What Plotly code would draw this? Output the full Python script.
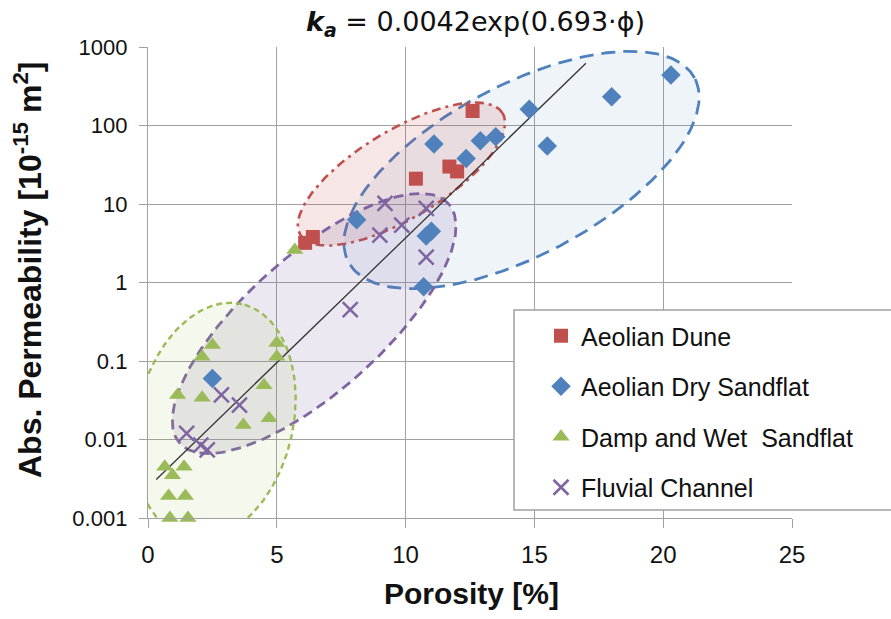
import numpy as np
import plotly.graph_objects as go

# ---------------- data ----------------
series_names = ["Aeolian Dune", "Aeolian Dry Sandflat", "Damp and Wet  Sandflat", "Fluvial Channel"]

dune_x = [6.1, 6.4, 10.4, 11.7, 12.0, 12.6]
dune_y = [3.2, 3.8, 21, 30, 26, 153]

dry_x = [2.5, 8.1, 10.7, 10.8, 11.0, 11.1, 12.35, 12.9, 13.5, 14.8, 15.5, 18.0, 20.3]
dry_y = [0.06, 6.3, 0.88, 3.9, 4.5, 58, 38, 64, 72, 161, 55, 233, 440]

damp_x = [0.65, 0.8, 0.85, 0.95, 1.15, 1.4, 1.45, 1.55, 2.1, 2.1, 2.5, 3.7, 4.5, 4.7, 5.0, 5.0, 5.7]
damp_y = [0.0045, 0.0019, 0.001, 0.0035, 0.037, 0.0045, 0.0019, 0.001, 0.034, 0.113, 0.16,
          0.0153, 0.049, 0.0186, 0.17, 0.113, 2.6]

fluv_x = [1.5, 2.05, 2.3, 2.85, 3.55, 7.85, 9.0, 9.2, 9.85, 10.8, 10.8]
fluv_y = [0.012, 0.0085, 0.0074, 0.037, 0.0275, 0.45, 4.0, 10.2, 5.4, 8.8, 2.1]

# fitted trend line end points
fit_x = [0.32, 17.0]
fit_y = [0.0031, 620]

x_ticks = [0, 5, 10, 15, 20, 25]
y_ticks = [0.001, 0.01, 0.1, 1, 10, 100, 1000]
y_ticklabels = ["0.001", "0.01", "0.1", "1", "10", "100", "1000"]

# envelope ellipses: centre (data), semi-axes (px), rotation (deg)
ell_centre_x = [14.5, 9.84, 6.45, 2.6]
ell_centre_y = [27.1, 24.1, 0.30, 0.0172]

# ---------------- layout geometry / styles ----------------
W, H = 891, 619
ML, MR, MT, MB = 148, 99, 47, 101
PW, PH = W - ML - MR, H - MT - MB
X_RANGE = [0, 25]
LOGY_RANGE = [-3, 3]
PX_X = PW / (X_RANGE[1] - X_RANGE[0])
PX_DEC = PH / (LOGY_RANGE[1] - LOGY_RANGE[0])

RED, BLUE, GREEN, PURPLE = "#C0504D", "#4F81BD", "#9BBB59", "#8064A2"
GRID = "#A0A0A0"
FONT = "Liberation Sans, Arial, sans-serif"

ell_a = [196, 118, 180, 120]
ell_b = [85, 44, 68, 78]
ell_ang = [28, 31, 41.7, 77]
ell_line = [BLUE, RED, PURPLE, GREEN]
ell_fill = ["rgba(79,129,189,0.09)", "rgba(192,80,77,0.14)",
            "rgba(128,100,162,0.15)", "rgba(155,187,89,0.11)"]
ell_dash = ["14px,8px", "9px,5px,3px,5px", "10px,6px", "6px,4px"]
ell_w = [2.8, 2.6, 2.8, 2.4]


def px_x(p):
    return (p - ML) / PW


def px_y(p):
    return (H - MB - p) / PH


def ellipse(cx, cy, a, b, ang):
    t = np.linspace(0, 2 * np.pi, 240)
    th = np.radians(ang)
    u, v = a * np.cos(t), b * np.sin(t)
    dx = u * np.cos(th) - v * np.sin(th)
    dy = u * np.sin(th) + v * np.cos(th)
    xs = cx + dx / PX_X
    ys = 10 ** (np.log10(cy) + dy / PX_DEC)
    return xs, ys


fig = go.Figure()

for i in range(4):
    ex, ey = ellipse(ell_centre_x[i], ell_centre_y[i], ell_a[i], ell_b[i], ell_ang[i])
    fig.add_trace(go.Scatter(
        x=ex, y=ey, mode="lines", fill="toself", fillcolor=ell_fill[i],
        line=dict(color=ell_line[i], width=ell_w[i], dash=ell_dash[i]),
        showlegend=False, hoverinfo="skip", cliponaxis=False))

fig.add_trace(go.Scatter(x=fit_x, y=fit_y, mode="lines",
                         line=dict(color="#333333", width=1.3),
                         showlegend=False, hoverinfo="skip"))

marker_specs = [
    (dune_x, dune_y, dict(symbol="square", size=14, color=RED)),
    (dry_x, dry_y, dict(symbol="diamond", size=15, color=BLUE)),
    (damp_x, damp_y, dict(symbol="triangle-up", size=15, color=GREEN)),
    (fluv_x, fluv_y, dict(symbol="x-thin-open", size=15, color=PURPLE,
                          line=dict(color=PURPLE, width=2.5))),
]
for name, (xs, ys, mk) in zip(series_names, marker_specs):
    fig.add_trace(go.Scatter(x=xs, y=ys, mode="markers", name=name, marker=mk,
                             legendgroup=name, cliponaxis=False))

shapes = [
    # white chart-title box hiding the top of the grid
    dict(type="rect", xref="paper", yref="paper", layer="between",
         x0=px_x(283), x1=px_x(663), y0=px_y(58), y1=px_y(0),
         fillcolor="white", line=dict(width=0)),
    # legend frame (runs off the right edge like the original)
    dict(type="rect", xref="paper", yref="paper", layer="above",
         x0=px_x(514), x1=px_x(905), y0=px_y(510), y1=px_y(310),
         fillcolor="white", line=dict(color=GRID, width=1.5)),
]

annotations = [
    dict(text="<b><i>k</i></b><sub><b><i>a</i></b></sub> = 0.0042exp(0.693·ϕ)",
         xref="paper", yref="paper", x=px_x(475), y=px_y(23), showarrow=False,
         xanchor="center", yanchor="middle",
         font=dict(family="DejaVu Sans, sans-serif", size=27, color="#111111")),
    dict(text="<b>Porosity [%]</b>", xref="paper", yref="paper",
         x=px_x(472), y=px_y(593), showarrow=False, xanchor="center", yanchor="middle",
         font=dict(family=FONT, size=30, color="#111111")),
    dict(text="<b>Abs. Permeability [10<sup>-15</sup> m<sup>2</sup>]</b>",
         xref="paper", yref="paper", x=px_x(28), y=px_y(270), showarrow=False,
         textangle=-90, xanchor="center", yanchor="middle",
         font=dict(family=FONT, size=32, color="#111111")),
]

fig.update_layout(
    width=W, height=H,
    margin=dict(l=ML, r=MR, t=MT, b=MB, pad=0),
    paper_bgcolor="white", plot_bgcolor="white",
    font=dict(family=FONT, color="#111111"),
    shapes=shapes, annotations=annotations,
    showlegend=True,
    legend=dict(x=px_x(541), y=px_y(313), xanchor="left", yanchor="top",
                bgcolor="rgba(0,0,0,0)", borderwidth=0,
                font=dict(family=FONT, size=25, color="#111111"),
                traceorder="grouped", tracegroupgap=15),
    xaxis=dict(range=X_RANGE, tickvals=x_ticks, showgrid=True, gridcolor=GRID,
               gridwidth=1.4, showline=True, linecolor=GRID, linewidth=1.4,
               ticks="outside", ticklen=9, tickcolor=GRID, tickwidth=1.4,
               ticklabelstandoff=6,
               zeroline=False, tickfont=dict(size=24, color="#111111")),
    yaxis=dict(type="log", range=LOGY_RANGE, tickvals=y_ticks, ticktext=y_ticklabels,
               showgrid=True, gridcolor=GRID, gridwidth=1.4, showline=True,
               linecolor=GRID, linewidth=1.4, ticks="outside", ticklen=8,
               tickcolor=GRID, tickwidth=1.4, zeroline=False, ticklabelstandoff=7,
               tickfont=dict(size=22, color="#111111")),
)

fig.write_html("out.html")
